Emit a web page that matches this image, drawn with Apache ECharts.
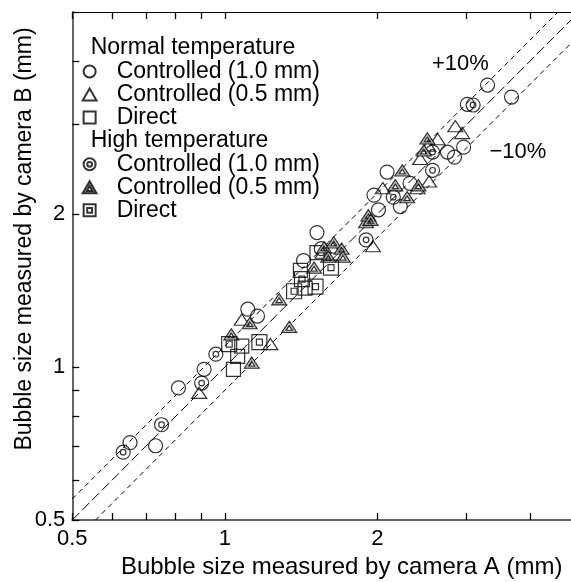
<!DOCTYPE html>
<html><head><meta charset="utf-8">
<script src="https://cdn.jsdelivr.net/npm/echarts@6/dist/echarts.min.js"></script>
<style>html,body{margin:0;padding:0;background:#fff}#c{width:571px;height:582px}</style>
</head><body><div id="c"></div>
<script>
// ---- data ----
const normal10X = [0.65,0.73,0.81,0.91,1.11,1.16,1.52,1.43,1.55,1.97,2.01,2.09,2.22,2.32,2.75,2.84,2.96,3.01,3.30,3.68];
const normal10Y = [0.71,0.70,0.91,0.99,1.30,1.26,1.84,1.62,1.71,2.18,2.04,2.42,2.07,2.30,2.65,2.59,2.71,3.29,3.59,3.40];
const normal05X = [0.89,1.08,1.23,1.56,1.63,1.96,2.05,2.40,2.53,2.43,2.52,2.63,2.85,2.94];
const normal05Y = [0.89,1.24,1.11,1.68,1.72,1.73,2.25,2.25,2.32,2.57,2.73,2.81,2.98,2.89];
const normalDirectX = [1.04,1.06,1.08,1.52,1.41,1.44];
const normalDirectY = [0.99,1.05,1.10,1.68,1.55,1.43];
const high10X = [0.63,0.75,0.90,0.96,1.90,2.15,2.57,2.57,3.09];
const high10Y = [0.68,0.77,0.93,1.06,1.78,2.16,2.44,2.65,3.28];
const high05X = [1.03,1.12,1.13,1.28,1.34,1.50,1.57,1.60,1.64,1.70,1.71,1.90,1.92,1.94,2.17,2.24,2.29,2.41,2.47,2.51];
const high05Y = [1.16,1.22,1.02,1.36,1.20,1.57,1.72,1.65,1.76,1.71,1.65,1.93,1.99,1.95,2.28,2.44,2.16,2.28,2.67,2.82];
const highDirectX = [1.02,1.17,1.37,1.42,1.51,1.62];
const highDirectY = [1.11,1.12,1.41,1.49,1.44,1.57];

const lineOneToOne = [[0.5,0.5],[5,5]];
const linePlus10 = [[0.5,0.55],[4.545,5]];
const lineMinus10 = [[0.5556,0.5],[5,4.5]];

const tickValues = [0.5,0.6,0.7,0.8,0.9,1,2,3,4,5];
const labelValues = [0.5,1,2];

const itemNames = ['Controlled (1.0 mm)','Controlled (0.5 mm)','Direct'];
const groupTitles = ['Normal temperature','High temperature'];
const lineLabels = ['+10%','\u221210%'];
const xName = 'Bubble size measured by camera A (mm)';
const yName = 'Bubble size measured by camera B (mm)';

// ---- chart ----
const FONT = '"Liberation Sans", Arial, Helvetica, sans-serif';
function pairs(xs, ys){ return xs.map((x,i)=>[x, ys[i]]); }
const HIGH = 'High: ';

const plainCircle = 'circle';
const ringCircle = 'path://M10,0A10,10,0,1,1,10,20A10,10,0,1,1,10,0ZM10,6A4,4,0,1,0,10,14A4,4,0,1,0,10,6Z';
const plainSquare = 'path://M0,0L20,0L20,20L0,20Z';
const ringSquare = 'path://M0,0L20,0L20,20L0,20ZM6,6L6,14L14,14L14,6Z';
const plainTri = 'path://M10,0L20,17.32L0,17.32Z';
const ringTri = 'path://M10,0L20,17.32L0,17.32ZM10,6.93L6,13.86L14,13.86Z';

const open = {color:'rgba(0,0,0,0)', borderColor:'#000', borderWidth:1.2};

function scatter(name, data, symbol, size, style){
  return {type:'scatter', name, data, symbol, symbolSize:size, symbolKeepAspect:true,
    itemStyle:style, z:3, emphasis:{disabled:true}};
}
function refLine(data, dash){
  return {type:'line', data, symbol:'none', silent:true, z:2, clip:true,
    lineStyle:{color:'#000', width:1, type:dash}};
}

const tickStyle = {color:'#000', width:1.3};
const labelStyle = {fontSize:22, color:'#000', fontFamily:FONT};

const chart = echarts.init(document.getElementById('c'), null, {renderer:'canvas'});
chart.setOption({
  animation:false,
  backgroundColor:'#fff',
  grid:{left:72.3, top:12, right:-8, bottom:62, containLabel:false, outerBoundsMode:'none'},
  xAxis:[{
    type:'log', logBase:10, min:0.5, max:5, position:'bottom',
    axisLine:{show:true, lineStyle:{color:'#666', width:2}},
    axisTick:{show:true, inside:true, length:7, customValues:tickValues, lineStyle:tickStyle},
    axisLabel:Object.assign({show:true, customValues:labelValues, margin:8}, labelStyle),
    minorTick:{show:false}, splitLine:{show:false},
    name:xName, nameLocation:'middle', nameGap:35, nameMoveOverlap:false,
    nameTextStyle:{fontSize:24, color:'#000', fontFamily:FONT, padding:[0,0,0,32]}
  },{
    type:'log', logBase:10, min:0.5, max:5, position:'top',
    axisLine:{show:true, lineStyle:{color:'#000', width:1}},
    axisTick:{show:true, inside:true, length:7, customValues:tickValues, lineStyle:tickStyle},
    axisLabel:{show:false}, splitLine:{show:false}
  }],
  yAxis:{
    type:'log', logBase:10, min:0.5, max:5,
    axisLine:{show:true, lineStyle:{color:'#666', width:2}},
    axisTick:{show:true, inside:true, length:7, customValues:tickValues, lineStyle:tickStyle},
    axisLabel:Object.assign({show:true, customValues:labelValues, margin:7}, labelStyle),
    minorTick:{show:false}, splitLine:{show:false},
    name:yName, nameLocation:'middle', nameGap:36, nameMoveOverlap:false,
    nameTextStyle:{fontSize:23, color:'#000', fontFamily:FONT, padding:[0,0,0,54]}
  },
  legend:[{
    data:itemNames, orient:'vertical', left:76.7, top:55, itemWidth:40, itemHeight:12, itemGap:0,
    selectedMode:false, symbolKeepAspect:true,
    textStyle:{fontSize:23, fontFamily:FONT, color:'#000', lineHeight:22.5, padding:[0,0,0,2]}
  },{
    data:itemNames.map(n=>HIGH+n), orient:'vertical', left:76.7, top:147.8, itemWidth:40, itemHeight:12, itemGap:0,
    selectedMode:false, symbolKeepAspect:true,
    formatter:n=>n.slice(HIGH.length),
    textStyle:{fontSize:23, fontFamily:FONT, color:'#000', lineHeight:22.5, padding:[0,0,0,2]}
  }],
  graphic:[
    {type:'text', x:90.7, y:47.7, style:{text:groupTitles[0], fontSize:23, fontFamily:FONT, fill:'#000', verticalAlign:'middle'}},
    {type:'text', x:90.7, y:141, style:{text:groupTitles[1], fontSize:23, fontFamily:FONT, fill:'#000', verticalAlign:'middle'}},
    {type:'text', x:432, y:64, style:{text:lineLabels[0], fontSize:22, fontFamily:FONT, fill:'#000', verticalAlign:'middle'}},
    {type:'text', x:489.5, y:151.5, style:{text:lineLabels[1], fontSize:22, fontFamily:FONT, fill:'#000', verticalAlign:'middle'}}
  ],
  series:[
    refLine(lineOneToOne, [10,4]),
    refLine(linePlus10, [5,4]),
    refLine(lineMinus10, [5,4]),
    scatter(itemNames[0], pairs(normal10X, normal10Y), plainCircle, 14, open),
    scatter(itemNames[1], pairs(normal05X, normal05Y), plainTri, [15,13], open),
    scatter(itemNames[2], pairs(normalDirectX, normalDirectY), plainSquare, 14, open),
    scatter(HIGH+itemNames[0], pairs(high10X, high10Y), ringCircle, 14, open),
    scatter(HIGH+itemNames[1], pairs(high05X, high05Y), ringTri, [15,13], {color:'#aaa', borderColor:'#000', borderWidth:1.1}),
    scatter(HIGH+itemNames[2], pairs(highDirectX, highDirectY), ringSquare, 15, open)
  ]
});
</script></body></html>
